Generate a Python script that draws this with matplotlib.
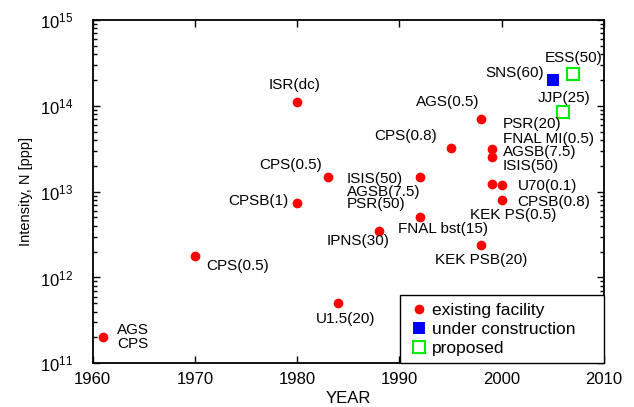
import matplotlib
matplotlib.use('Agg')
import matplotlib.pyplot as plt
from matplotlib.lines import Line2D

plt.rcParams['font.family'] = ['Liberation Sans', 'DejaVu Sans']
plt.rcParams['mathtext.fontset'] = 'custom'
plt.rcParams['mathtext.rm'] = 'Liberation Sans'
plt.rcParams['mathtext.it'] = 'Liberation Sans:italic'
plt.rcParams['mathtext.bf'] = 'Liberation Sans:bold'

# existing facilities
existing_year = [1961, 1970, 1980, 1983, 1980, 1984, 1988, 1992, 1992,
                 1995, 1998, 1998, 1999, 1999, 1999, 2000, 2000]
existing_N = [2e11, 1.8e12, 1.1e14, 1.5e13, 7.4e12, 5e11, 3.5e12, 1.5e13, 5e12,
              3.2e13, 7e13, 2.4e12, 3.1e13, 2.5e13, 1.23e13, 1.19e13, 8e12]

# under construction
construction_year = [2005]
construction_N = [2e14]

# proposed
proposed_year = [2007, 2006]
proposed_N = [2.33e14, 8.4e13]

# labels: text, group, index of point, offset (pixels), alignment
labels = [
    ('AGS', 'e', 0, 14, 7, 'left'),
    ('CPS', 'e', 0, 14, -7, 'left'),
    ('CPS(0.5)', 'e', 1, 11, -10, 'left'),
    ('ISR(dc)', 'e', 2, -3, 17, 'center'),
    ('CPS(0.5)', 'e', 3, -6, 12, 'right'),
    ('CPSB(1)', 'e', 4, -9, 2, 'right'),
    ('U1.5(20)', 'e', 5, 8, -16, 'center'),
    ('IPNS(30)', 'e', 6, 10, -10, 'right'),
    ('ISIS(50)', 'e', 7, -73, -2, 'left'),
    ('AGSB(7.5)', 'e', 7, -73, -15, 'left'),
    ('PSR(50)', 'e', 7, -73, -27, 'left'),
    ('FNAL bst(15)', 'e', 8, -22, -12, 'left'),
    ('CPS(0.8)', 'e', 9, -14, 12, 'right'),
    ('AGS(0.5)', 'e', 10, -2, 17, 'right'),
    ('KEK PSB(20)', 'e', 11, 0, -15, 'center'),
    ('PSR(20)', 'e', 12, 11, 25, 'left'),
    ('FNAL MI(0.5)', 'e', 12, 11, 10, 'left'),
    ('AGSB(7.5)', 'e', 12, 11, -3, 'left'),
    ('ISIS(50)', 'e', 13, 11, -9, 'left'),
    ('U70(0.1)', 'e', 15, 16, -1, 'left'),
    ('CPSB(0.8)', 'e', 16, 16, -2, 'left'),
    ('KEK PS(0.5)', 'e', 16, -32, -15, 'left'),
    ('SNS(60)', 'c', 0, -9, 7, 'right'),
    ('ESS(50)', 'p', 0, 0, 16, 'center'),
    ('JJP(25)', 'p', 1, 1, 14, 'center'),
]

groups = {
    'e': (existing_year, existing_N),
    'c': (construction_year, construction_N),
    'p': (proposed_year, proposed_N),
}

fig = plt.figure(figsize=(6.34, 4.07), dpi=100)
ax = fig.add_axes([0.1462, 0.1074, 0.8065, 0.8435])

ax.plot(existing_year, existing_N, 'o', color='red', markersize=7, markeredgewidth=0,
        linestyle='none')
ax.plot(construction_year, construction_N, 's', color='blue', markersize=8,
        markeredgewidth=0, linestyle='none')
ax.plot(proposed_year, proposed_N, 's', markerfacecolor='none', markeredgecolor='#00ee00',
        markersize=8, markeredgewidth=1.5, linestyle='none')

for text, g, i, dx, dy, ha in labels:
    xs, ys = groups[g]
    ax.annotate(text, (xs[i], ys[i]), xytext=(dx, dy), textcoords='offset pixels',
                ha=ha, va='center', fontsize=11)

ax.set_yscale('log')
ax.set_xlim(1960, 2010)
ax.set_ylim(1e11, 1e15)
ax.set_xticks([1960, 1970, 1980, 1990, 2000, 2010])

for s in ax.spines.values():
    s.set_linewidth(1.3)
ax.tick_params(which='both', direction='in', top=True, right=True, width=1.0)
ax.tick_params(which='major', length=5, labelsize=12)
ax.tick_params(which='minor', length=3)
ax.tick_params(axis='y', which='major', pad=14)
ax.tick_params(axis='x', which='major', pad=6)

ax.set_xlabel('YEAR', fontsize=12)
ax.set_ylabel('Intensity, N [ppp]', fontsize=10.5)
ax.xaxis.set_label_coords(0.5, -0.08)
ax.yaxis.set_label_coords(-0.116, 0.5)

handles = [
    Line2D([], [], marker='o', color='red', markersize=7, markeredgewidth=0, linestyle='none'),
    Line2D([], [], marker='s', color='blue', markersize=8, markeredgewidth=0, linestyle='none'),
    Line2D([], [], marker='s', markerfacecolor='none', markeredgecolor='#00ee00',
           markersize=8, markeredgewidth=1.5, linestyle='none'),
]
leg = ax.legend(handles, ['existing facility', 'under construction', 'proposed'],
                loc='lower left', bbox_to_anchor=(0.601, 0.0, 0.399, 0.2),
                mode='expand', borderaxespad=0, fontsize=12.5, frameon=True,
                fancybox=False, framealpha=1, edgecolor='black', handlelength=1.35,
                handletextpad=0.05, labelspacing=0.23, borderpad=0.42, numpoints=1)
leg.get_frame().set_linewidth(1.0)

fig.savefig('out.png', dpi=100)
